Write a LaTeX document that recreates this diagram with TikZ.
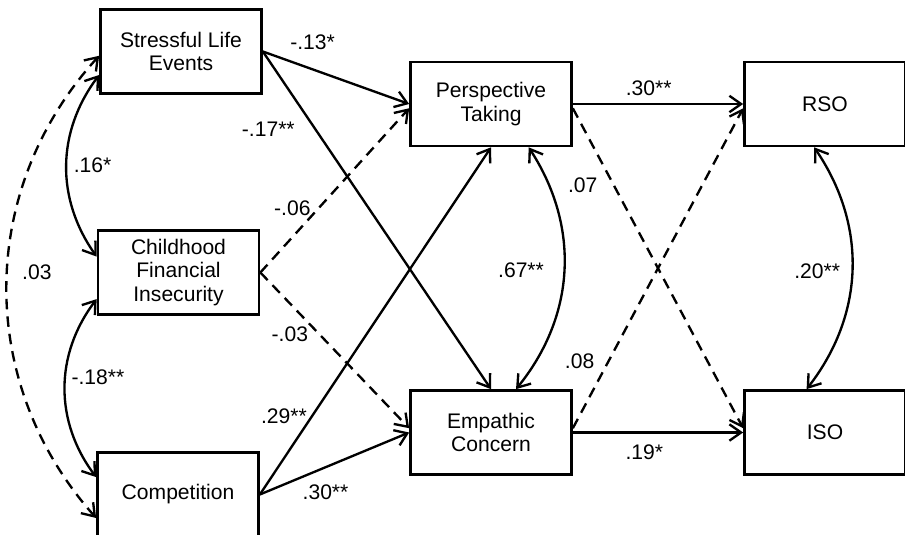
\documentclass[tikz,border=0pt]{standalone}
\usepackage{fontspec}
\setmainfont{Liberation Sans}
\usetikzlibrary{arrows.meta}

\begin{document}
\begin{tikzpicture}[
    x=0.03cm, y=0.03cm,
    var/.style={rectangle, draw=black, line width=2.3pt, minimum width=4.83cm, minimum height=2.52cm, align=center, font=\fontsize{18}{20}\selectfont},
    arrow/.style={-{Straight Barb[length=10pt,width=14pt]}, line width=2pt},
    dasharrow/.style={arrow, dash pattern=on 9pt off 6pt},
    cov/.style={{Straight Barb[length=10pt,width=14pt]}-{Straight Barb[length=10pt,width=14pt]}, line width=2pt},
    dashcov/.style={cov, dash pattern=on 9pt off 6pt},
    lbl/.style={font=\fontsize{18}{20}\selectfont, inner sep=0pt}
]
\useasboundingbox (0,0) rectangle (905,-534);

% Predictors, mediators and outcomes
\node [var] (sle) at (181,-51.5) {Stressful Life\\Events};
\node [var] (cfi) at (178.5,-272.5) {Childhood\\Financial\\Insecurity};
\node [var] (comp) at (178,-494.5) {Competition};
\node [var] (pt) at (491,-104) {Perspective\\Taking};
\node [var] (ec) at (491,-432.5) {Empathic\\Concern};
\node [var] (rso) at (825,-104) {RSO};
\node [var] (iso) at (825,-432.5) {ISO};

% Paths to the mediators
\draw [arrow] (sle.east) -- node[lbl, pos=0.34, shift={(0,27)}] {-.13*} (pt.west);
\draw [arrow] (sle.east) -- node[lbl, pos=0.23, shift={(-47,0)}] {-.17**} (ec.north);
\draw [dasharrow] (cfi.east) -- node[lbl, pos=0.39, shift={(-26,0)}] {-.06} (pt.183);
\draw [dasharrow] (cfi.east) -- node[lbl, pos=0.4, shift={(-30,1)}] {-.03} (ec.177);
\draw [arrow] (comp.east) -- node[lbl, pos=0.225, shift={(-28,0)}] {.29**} (pt.south);
\draw [arrow] (comp.east) -- node[lbl, pos=0.44, shift={(0,-25)}] {.30**} (ec.west);

% Paths to the outcomes
\draw [arrow] (pt.east) -- node[lbl, pos=0.445, shift={(0,16)}] {.30**} (rso.west);
\draw [dasharrow] (pt.357) -- node[lbl, pos=0.24, shift={(-31,0)}] {.07} (iso.177);
\draw [dasharrow] (ec.3) -- node[lbl, pos=0.21, shift={(-29,0)}] {.08} (rso.183);
\draw [arrow] (ec.east) -- node[lbl, pos=0.42, shift={(0,-19.5)}] {.19*} (iso.west);

% Covariances
\draw [cov] (sle.196) to[bend right=36] node[lbl, pos=0.5, shift={(26,0)}] {.16*} (cfi.169);
\draw [cov] (cfi.198) to[bend right=37] node[lbl, pos=0.5, shift={(33,11)}] {-.18**} (comp.168);
\draw [dashcov] (sle.183) to[bend right=42] node[lbl, pos=0.5, shift={(30,14)}] {.03} (comp.196);
\draw [cov] (pt.-49) to[bend left=36] node[lbl, pos=0.5, shift={(-43,0)}] {.67**} (ec.60);
\draw [cov] (rso.256) to[bend left=36] node[lbl, pos=0.5, shift={(-35,-2)}] {.20**} (iso.113);

\end{tikzpicture}
\end{document}
